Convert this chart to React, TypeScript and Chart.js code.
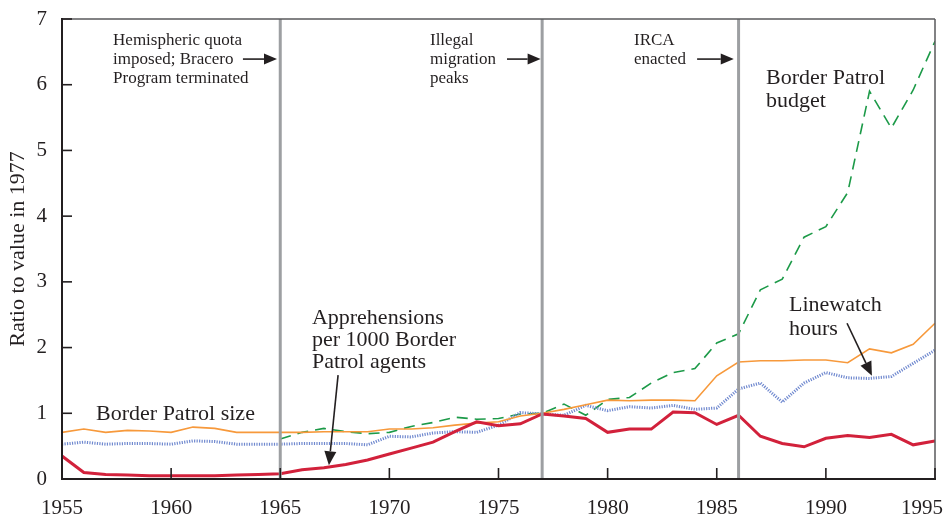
import React, { useEffect, useRef } from "react";
import { Chart, registerables } from "chart.js";

Chart.register(...registerables);

const FONT = '"Liberation Serif", "Times New Roman", serif';
const INK = "#231f20";

const years = [
  1955, 1956, 1957, 1958, 1959, 1960, 1961, 1962, 1963, 1964,
  1965, 1966, 1967, 1968, 1969, 1970, 1971, 1972, 1973, 1974,
  1975, 1976, 1977, 1978, 1979, 1980, 1981, 1982, 1983, 1984,
  1985, 1986, 1987, 1988, 1989, 1990, 1991, 1992, 1993, 1994, 1995,
];

const apprehensionsPerAgent = [
  0.35, 0.10, 0.07, 0.06, 0.05, 0.05, 0.05, 0.05, 0.06, 0.07,
  0.08, 0.14, 0.17, 0.22, 0.29, 0.38, 0.47, 0.56, 0.72, 0.87,
  0.81, 0.84, 0.99, 0.96, 0.92, 0.71, 0.76, 0.76, 1.02, 1.01,
  0.83, 0.97, 0.65, 0.54, 0.49, 0.62, 0.66, 0.63, 0.68, 0.52, 0.58,
];

const borderPatrolSize = [
  0.71, 0.76, 0.71, 0.74, 0.73, 0.71, 0.79, 0.77, 0.71, 0.71,
  0.71, 0.71, 0.72, 0.72, 0.72, 0.76, 0.76, 0.78, 0.82, 0.85,
  0.87, 0.96, 1.0, 1.06, 1.13, 1.2, 1.19, 1.2, 1.2, 1.19,
  1.57, 1.78, 1.8, 1.8, 1.81, 1.81, 1.77, 1.98, 1.92, 2.05, 2.37,
];

const linewatchHours = [
  0.53, 0.56, 0.53, 0.54, 0.54, 0.53, 0.58, 0.57, 0.53, 0.53,
  0.53, 0.54, 0.54, 0.54, 0.52, 0.65, 0.64, 0.70, 0.72, 0.71,
  0.82, 1.01, 0.99, 0.97, 1.12, 1.04, 1.10, 1.08, 1.12, 1.06,
  1.08, 1.37, 1.46, 1.17, 1.46, 1.62, 1.54, 1.53, 1.56, 1.76, 1.96,
];

const borderPatrolBudget = [
  null, null, null, null, null, null, null, null, null, null,
  0.61, 0.71, 0.77, 0.72, 0.69, 0.71, 0.80, 0.86, 0.94, 0.91,
  0.92, 0.99, 1.0, 1.14, 0.97, 1.21, 1.24, 1.46, 1.62, 1.68,
  2.07, 2.21, 2.88, 3.04, 3.68, 3.84, 4.36, 5.90, 5.34, 5.92, 6.66,
];

const xTickLabels = [1955, 1960, 1965, 1970, 1975, 1980, 1985, 1990, 1995];
const yTickValues = [0, 1, 2, 3, 4, 5, 6, 7];
const eventYears = [1965, 1977, 1986];

const eventNotes = [
  { lines: ["Hemispheric quota", "imposed; Bracero", "Program terminated"], x: 1957.34, y: 6.67, arrowFrom: 1963.29, arrowTo: 1964.85, arrowY: 6.39 },
  { lines: ["Illegal", "migration", "peaks"], x: 1971.86, y: 6.67, arrowFrom: 1975.39, arrowTo: 1976.93, arrowY: 6.39 },
  { lines: ["IRCA", "enacted"], x: 1981.21, y: 6.67, arrowFrom: 1984.1, arrowTo: 1985.78, arrowY: 6.39 },
];

const seriesNotes = [
  { lines: ["Border Patrol size"], x: 1956.56, y: 0.99, spacing: 22 },
  { lines: ["Apprehensions", "per 1000 Border", "Patrol agents"], x: 1966.45, y: 2.45, spacing: 22 },
  { lines: ["Border Patrol", "budget"], x: 1987.26, y: 6.1, spacing: 23 },
  { lines: ["Linewatch", "hours"], x: 1988.31, y: 2.65, spacing: 24 },
];

const pointerArrows = [
  { x1: 1967.65, y1: 1.58, x2: 1967.23, y2: 0.21 },
  { x1: 1990.97, y1: 2.37, x2: 1992.11, y2: 1.57 },
];

function arrow(ctx: CanvasRenderingContext2D, x1: number, y1: number, x2: number, y2: number, head = 12, half = 5) {
  const ang = Math.atan2(y2 - y1, x2 - x1);
  const bx = x2 - head * Math.cos(ang);
  const by = y2 - head * Math.sin(ang);
  ctx.beginPath();
  ctx.moveTo(x1, y1);
  ctx.lineTo(bx, by);
  ctx.stroke();
  ctx.beginPath();
  ctx.moveTo(x2, y2);
  ctx.lineTo(bx + half * Math.sin(ang), by - half * Math.cos(ang));
  ctx.lineTo(bx - half * Math.sin(ang), by + half * Math.cos(ang));
  ctx.closePath();
  ctx.fill();
}

const overlay = {
  id: "overlay",
  afterDatasetsDraw(chart: any) {
    const { ctx, chartArea: a, scales } = chart;
    const xs = scales.x;
    const ys = scales.y;
    const line = (x1: number, y1: number, x2: number, y2: number) => {
      ctx.beginPath();
      ctx.moveTo(x1, y1);
      ctx.lineTo(x2, y2);
      ctx.stroke();
    };
    ctx.save();
    // event lines
    ctx.strokeStyle = "#9d9fa2";
    ctx.lineWidth = 3;
    eventYears.forEach((yr) => {
      const px = xs.getPixelForValue(yr);
      line(px, a.top, px, a.bottom);
    });
    // frame
    ctx.strokeStyle = "#58595b";
    ctx.lineWidth = 1.5;
    line(a.left, a.top, a.right, a.top);
    line(a.right, a.top, a.right, a.bottom);
    ctx.strokeStyle = INK;
    ctx.lineWidth = 2;
    line(a.left, a.top - 1, a.left, a.bottom + 1);
    line(a.left - 1, a.bottom, a.right + 1, a.bottom);
    // inward ticks
    ctx.lineWidth = 1.6;
    xTickLabels.forEach((v) => {
      const px = xs.getPixelForValue(v);
      line(px, a.bottom, px, a.bottom - 11);
    });
    yTickValues.forEach((v) => {
      const py = ys.getPixelForValue(v);
      line(a.left, py, a.left + 10, py);
    });
    // x tick labels
    ctx.fillStyle = INK;
    ctx.font = `21px ${FONT}`;
    ctx.textAlign = "center";
    ctx.textBaseline = "middle";
    const W = chart.width;
    xTickLabels.forEach((v) => {
      const txt = String(v);
      const w = ctx.measureText(txt).width;
      let px = xs.getPixelForValue(v);
      px = Math.min(px, W - 4 - w / 2);
      ctx.fillText(txt, px, a.bottom + 29);
    });
    // event notes
    ctx.font = `17px ${FONT}`;
    ctx.textAlign = "left";
    eventNotes.forEach((n) => {
      const px = xs.getPixelForValue(n.x);
      const py = ys.getPixelForValue(n.y);
      n.lines.forEach((t, i) => ctx.fillText(t, px, py + i * 19));
      ctx.lineWidth = 1.6;
      ctx.strokeStyle = INK;
      const ay = ys.getPixelForValue(n.arrowY);
      arrow(ctx, xs.getPixelForValue(n.arrowFrom), ay, xs.getPixelForValue(n.arrowTo), ay, 13, 5.5);
    });
    // series notes
    ctx.font = `22px ${FONT}`;
    seriesNotes.forEach((n) => {
      const px = xs.getPixelForValue(n.x);
      const py = ys.getPixelForValue(n.y);
      n.lines.forEach((t, i) => ctx.fillText(t, px, py + i * n.spacing));
    });
    ctx.lineWidth = 1.6;
    pointerArrows.forEach((p) => {
      arrow(ctx, xs.getPixelForValue(p.x1), ys.getPixelForValue(p.y1), xs.getPixelForValue(p.x2), ys.getPixelForValue(p.y2), 14, 6);
    });
    ctx.restore();
  },
};

const toPoints = (vals: (number | null)[]) => years.map((yr, i) => ({ x: yr, y: vals[i] }));

export default function App() {
  const ref = useRef<HTMLCanvasElement>(null);
  useEffect(() => {
    if (!ref.current) return;
    Chart.defaults.font.family = FONT;
    const chart = new Chart(ref.current, {
      type: "line",
      data: {
        datasets: [
          { label: "Apprehensions per 1000 Border Patrol agents", data: toPoints(apprehensionsPerAgent), borderColor: "#d2213b", borderWidth: 3, pointRadius: 0, tension: 0 },
          { label: "Border Patrol size", data: toPoints(borderPatrolSize), borderColor: "#f7993b", borderWidth: 1.6, pointRadius: 0, tension: 0 },
          { label: "Linewatch hours", data: toPoints(linewatchHours), borderColor: "#7089cf", borderWidth: 3, borderDash: [1.2, 1.3], pointRadius: 0, tension: 0 },
          { label: "Border Patrol budget", data: toPoints(borderPatrolBudget), borderColor: "#1c9a48", borderWidth: 1.6, borderDash: [11, 7], pointRadius: 0, tension: 0, spanGaps: false },
        ],
      },
      options: {
        animation: false,
        responsive: true,
        maintainAspectRatio: false,
        layout: { padding: { top: 19, right: 12, left: 0, bottom: 0 } },
        plugins: { legend: { display: false }, tooltip: { enabled: false } },
        scales: {
          x: {
            type: "linear",
            min: 1955,
            max: 1995,
            grid: { display: false },
            border: { display: false },
            ticks: { display: false },
            afterFit: (s: any) => { s.height = 40; s.paddingLeft = 0; s.paddingRight = 0; },
          },
          y: {
            min: 0,
            max: 7,
            grid: { display: false, drawTicks: false },
            border: { display: false },
            ticks: { stepSize: 1, padding: 15, color: INK, font: { size: 21, family: FONT } },
            title: { display: true, text: "Ratio to value in 1977", color: INK, font: { size: 22, family: FONT }, padding: { top: 5, bottom: 0 } },
            afterFit: (s: any) => { s.width = 62; s.paddingTop = 0; s.paddingBottom = 0; },
          },
        },
      },
      plugins: [overlay],
    });
    return () => chart.destroy();
  }, []);
  return (
    <div style={{ position: "fixed", left: 0, top: 0, width: 947, height: 519, background: "#fff" }}>
      <canvas ref={ref} />
    </div>
  );
}
